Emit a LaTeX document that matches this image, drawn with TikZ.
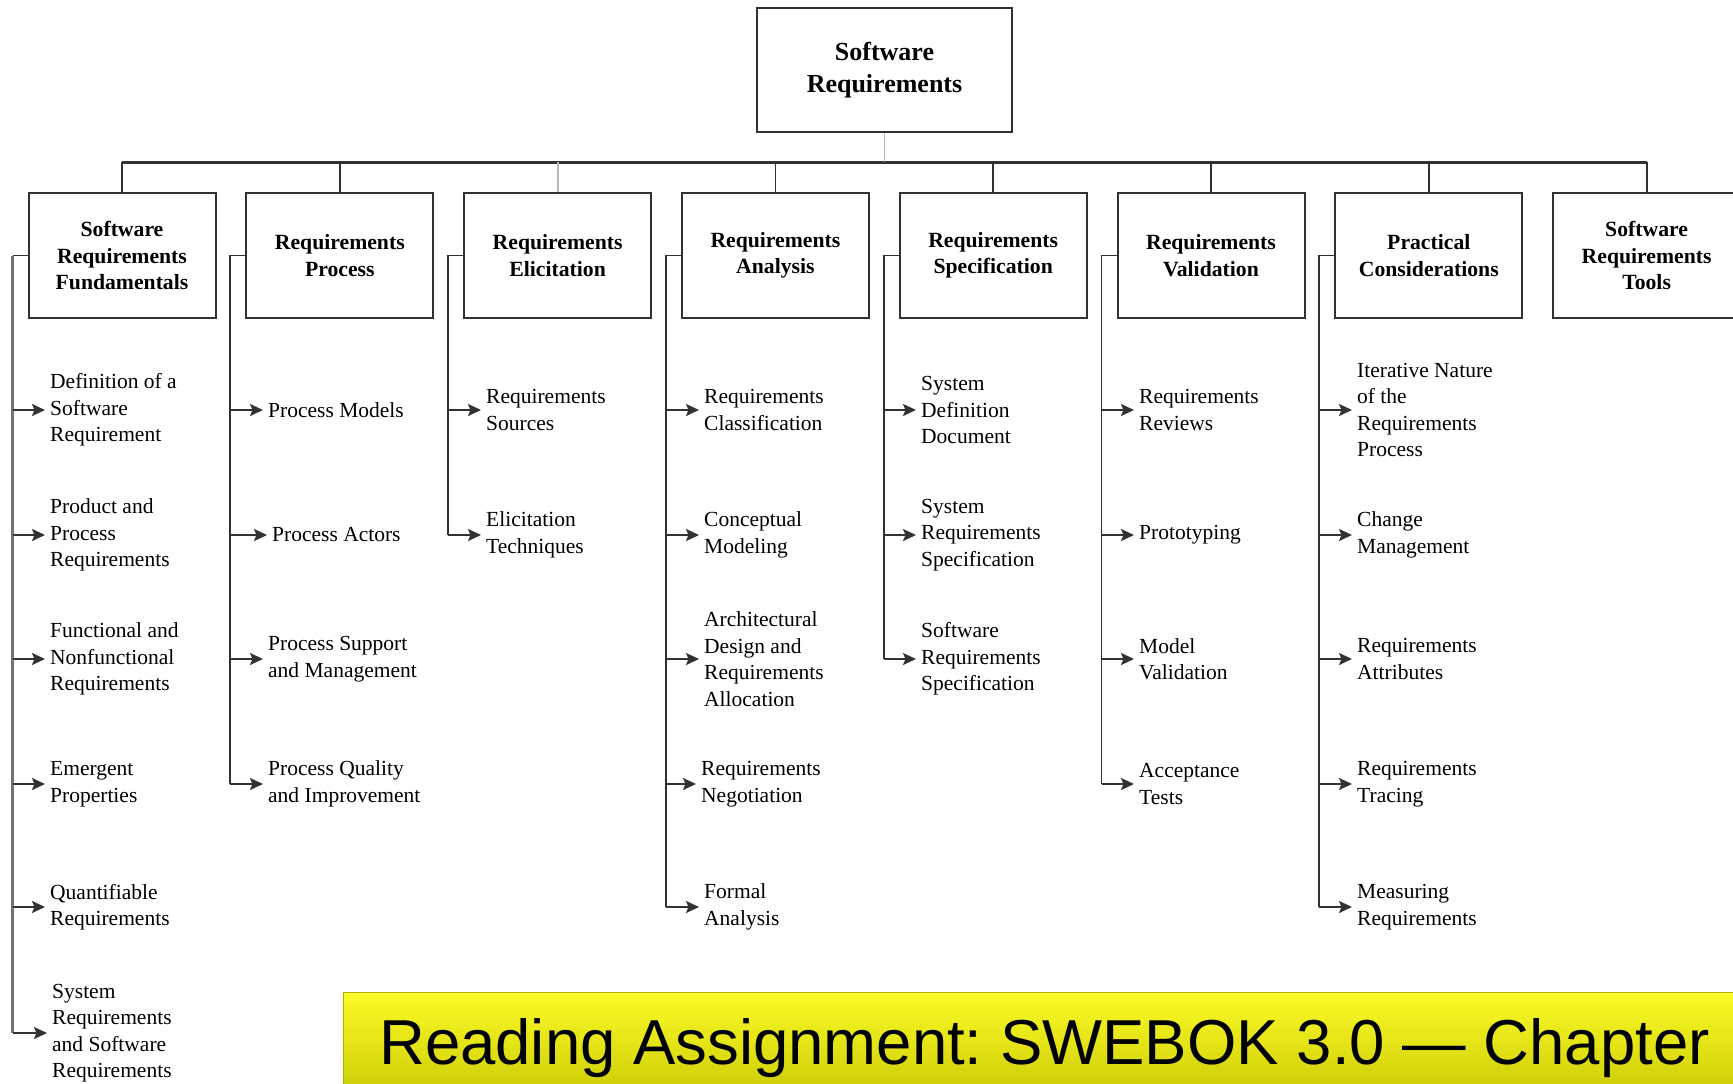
\documentclass[tikz,border=0pt]{standalone}
\usepackage{fontspec}
\setmainfont{Liberation Serif}
\newfontfamily\bannerfont{Liberation Sans}
\usetikzlibrary{positioning, arrows.meta}
\definecolor{linegray}{RGB}{50,50,50}
\definecolor{stemgray}{RGB}{185,185,185}
\definecolor{spinegray}{RGB}{115,115,115}
\definecolor{bannertop}{RGB}{252,252,40}
\definecolor{bannerbot}{RGB}{196,196,0}
\definecolor{banneredge}{RGB}{175,175,0}
\begin{document}
\begin{tikzpicture}[x=1pt, y=-1pt]
    \tikzset{
      rootbox/.style={
        draw=linegray, line width=2pt,
        minimum width=255pt, minimum height=124pt,
        align=center,
        font=\bfseries\fontsize{26}{32}\selectfont,
      },
      catbox/.style={
        draw=linegray, line width=2pt,
        minimum width=187pt, minimum height=125pt,
        inner sep=0pt, align=center,
        font=\bfseries\fontsize{21.7}{26.5}\selectfont,
      },
      item/.style={
        anchor=west, align=left, inner sep=0pt,
        font=\fontsize{21.5}{26.5}\selectfont,
      },
      lnk/.style={draw=linegray, line width=1.8pt},
      arr/.style={
        lnk,
        -{Stealth[length=13pt, width=12pt, inset=2.5pt]},
        shorten >=5pt,
      }
    }
    \tikzstyle{bannertext} = [anchor=base west, inner sep=0pt,
        font=\bannerfont\fontsize{63.5}{70}\selectfont]

    \useasboundingbox (0,0) rectangle (1733,1084);

    \node[rootbox] (root) at (884.5,70) {Software\\Requirements};
    \coordinate (bus) at (884.5,162);

    \node[catbox] (fund) at (122,255.5) {Software\\Requirements\\Fundamentals};
    \node[catbox, right=28.8pt of fund] (proc) {Requirements\\Process};
    \node[catbox, right=28.8pt of proc] (elic) {Requirements\\Elicitation};
    \node[catbox, right=28.8pt of elic] (anal) {Requirements\\Analysis};
    \node[catbox, right=28.8pt of anal] (spec) {Requirements\\Specification};
    \node[catbox, right=28.8pt of spec] (vali) {Requirements\\Validation};
    \node[catbox, right=28.8pt of vali] (prac) {Practical\\Considerations};
    \node[catbox, right=28.8pt of prac] (tools) {Software\\Requirements\\Tools};

    \coordinate[left=15pt of fund] (fund-s);
    \coordinate[left=15pt of proc] (proc-s);
    \coordinate[left=15pt of elic] (elic-s);
    \coordinate[left=15pt of anal] (anal-s);
    \coordinate[left=15pt of spec] (spec-s);
    \coordinate[left=15pt of vali] (vali-s);
    \coordinate[left=15pt of prac] (prac-s);

    % fundamentals
    \node[item] (fund1) at (50,410)  {Definition of a\\Software\\Requirement};
    \node[item] (fund2) at (50,535)  {Product and\\Process\\Requirements};
    \node[item] (fund3) at (50,659)  {Functional and\\Nonfunctional\\Requirements};
    \node[item] (fund4) at (50,784)  {Emergent\\Properties};
    \node[item] (fund5) at (50,907)  {Quantifiable\\Requirements};
    \node[item] (fund6) at (52,1033) {System\\Requirements\\and Software\\Requirements};

    % process
    \node[item] (proc1) at (268,410) {Process Models};
    \node[item] (proc2) at (272,535) {Process Actors};
    \node[item] (proc3) at (268,659) {Process Support\\and Management};
    \node[item] (proc4) at (268,784) {Process Quality\\and Improvement};

    % elicitation
    \node[item] (elic1) at (486,410) {Requirements\\Sources};
    \node[item] (elic2) at (486,535) {Elicitation\\Techniques};

    % analysis
    \node[item] (anal1) at (704,410) {Requirements\\Classification};
    \node[item] (anal2) at (704,535) {Conceptual\\Modeling};
    \node[item] (anal3) at (704,659) {Architectural\\Design and\\Requirements\\Allocation};
    \node[item] (anal4) at (701,784) {Requirements\\Negotiation};
    \node[item] (anal5) at (704,907) {Formal\\Analysis};

    % specification
    \node[item] (spec1) at (921,410) {System\\Definition\\Document};
    \node[item] (spec2) at (921,535) {System\\Requirements\\Specification};
    \node[item] (spec3) at (921,659) {Software\\Requirements\\Specification};

    % validation
    \node[item] (vali1) at (1139,410) {Requirements\\Reviews};
    \node[item] (vali2) at (1139,535) {Prototyping};
    \node[item] (vali3) at (1139,659) {Model\\Validation};
    \node[item] (vali4) at (1139,784) {Acceptance\\Tests};

    % practical considerations
    \node[item] (prac1) at (1357,410) {Iterative Nature\\of the\\Requirements\\Process};
    \node[item] (prac2) at (1357,535) {Change\\Management};
    \node[item] (prac3) at (1357,659) {Requirements\\Attributes};
    \node[item] (prac4) at (1357,784) {Requirements\\Tracing};
    \node[item] (prac5) at (1357,907) {Measuring\\Requirements};

    % tree
    \draw[lnk, line width=3pt] (fund.north |- bus) -- (tools.north |- bus);
    \path[lnk]
        (fund.north)  edge (fund.north |- bus)
        (proc.north)  edge (proc.north |- bus)
        (anal.north)  edge (anal.north |- bus)
        (spec.north)  edge (spec.north |- bus)
        (vali.north)  edge (vali.north |- bus)
        (prac.north)  edge (prac.north |- bus)
        (tools.north) edge (tools.north |- bus);
    \path[lnk, draw=stemgray]
        (root.south) edge (bus)
        (elic.north) edge (elic.north |- bus);

    % spines
    \draw[spinegray, line width=3.5pt] (fund-s) -- (fund-s |- fund6.west);
    \draw[lnk] (fund.west) -- (fund-s);
    \draw[lnk] (proc.west) -- (proc-s) -- (proc-s |- proc4.west);
    \draw[lnk] (elic.west) -- (elic-s) -- (elic-s |- elic2.west);
    \draw[lnk] (anal.west) -- (anal-s) -- (anal-s |- anal5.west);
    \draw[lnk] (spec.west) -- (spec-s) -- (spec-s |- spec3.west);
    \draw[lnk] (vali.west) -- (vali-s) -- (vali-s |- vali4.west);
    \draw[lnk] (prac.west) -- (prac-s) -- (prac-s |- prac5.west);

    \path[every edge/.append style=arr]
        (fund-s |- fund1.west) edge (fund1.west)
        (fund-s |- fund2.west) edge (fund2.west)
        (fund-s |- fund3.west) edge (fund3.west)
        (fund-s |- fund4.west) edge (fund4.west)
        (fund-s |- fund5.west) edge (fund5.west)
        (fund-s |- fund6.west) edge (fund6.west)
        (proc-s |- proc1.west) edge (proc1.west)
        (proc-s |- proc2.west) edge (proc2.west)
        (proc-s |- proc3.west) edge (proc3.west)
        (proc-s |- proc4.west) edge (proc4.west)
        (elic-s |- elic1.west) edge (elic1.west)
        (elic-s |- elic2.west) edge (elic2.west)
        (anal-s |- anal1.west) edge (anal1.west)
        (anal-s |- anal2.west) edge (anal2.west)
        (anal-s |- anal3.west) edge (anal3.west)
        (anal-s |- anal4.west) edge (anal4.west)
        (anal-s |- anal5.west) edge (anal5.west)
        (spec-s |- spec1.west) edge (spec1.west)
        (spec-s |- spec2.west) edge (spec2.west)
        (spec-s |- spec3.west) edge (spec3.west)
        (vali-s |- vali1.west) edge (vali1.west)
        (vali-s |- vali2.west) edge (vali2.west)
        (vali-s |- vali3.west) edge (vali3.west)
        (vali-s |- vali4.west) edge (vali4.west)
        (prac-s |- prac1.west) edge (prac1.west)
        (prac-s |- prac2.west) edge (prac2.west)
        (prac-s |- prac3.west) edge (prac3.west)
        (prac-s |- prac4.west) edge (prac4.west)
        (prac-s |- prac5.west) edge (prac5.west);

    % reading assignment banner
    \shade[draw=banneredge, line width=1pt, top color=bannertop, bottom color=bannerbot]
        (343,992) rectangle (1760,1110);
    \node[bannertext] (assign) at (379,1064)
        {Reading Assignment:\ SWEBOK 3.0 — Chapter};
\end{tikzpicture}
\end{document}
